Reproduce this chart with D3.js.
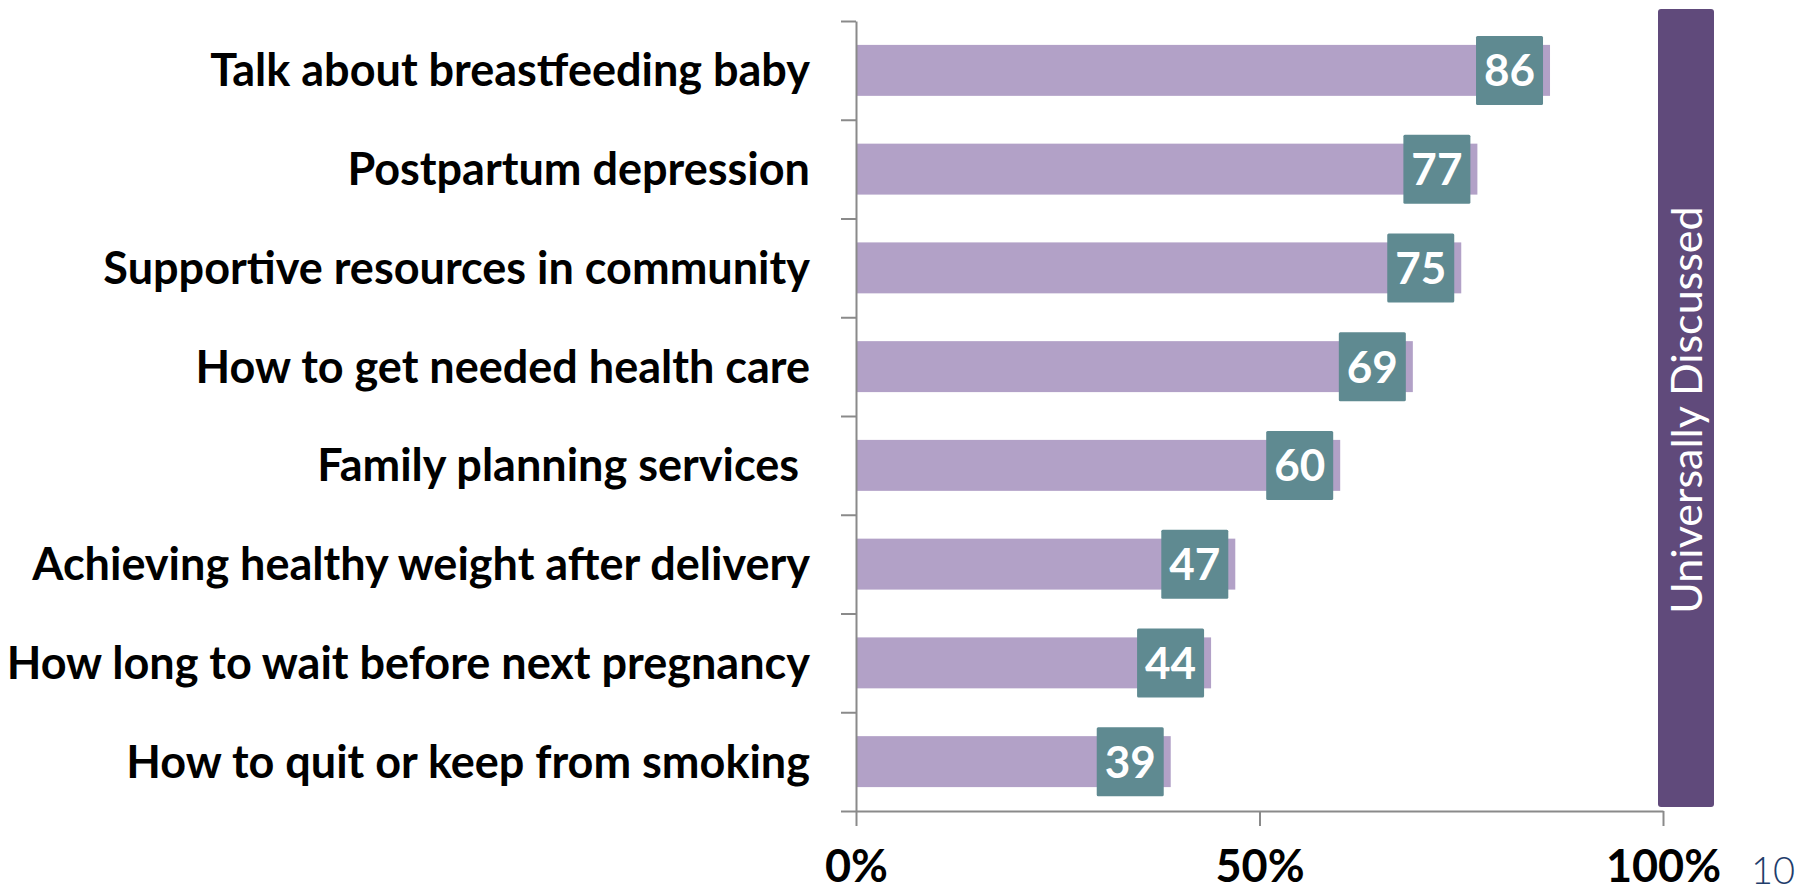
<!DOCTYPE html>
<html>
<head>
<meta charset="utf-8">
<script src="https://cdn.jsdelivr.net/npm/d3@7"></script>
<style>
  body { margin: 0; background: #fff; }
  svg text { font-family: Lato, "Open Sans", sans-serif; }
</style>
</head>
<body>
<script>
const categories = [
  'Talk about breastfeeding baby',
  'Postpartum depression',
  'Supportive resources in community',
  'How to get needed health care',
  'Family planning services ',
  'Achieving healthy weight after delivery',
  'How long to wait before next pregnancy',
  'How to quit or keep from smoking'
];
const values = [86, 77, 75, 69, 60, 47, 44, 39];
const xTicks = [0, 50, 100];
const sideLabel = 'Universally Discussed';
const pageNumber = '10';

const width = 1812;
const height = 892;
const plotLeft = 856;
const plotRight = 1663;
const plotTop = 21;
const plotBottom = 811;

const svg = d3.select('body').append('svg')
              .attr('width', width)
              .attr('height', height);

const xScale = d3.scaleLinear().domain([0, 100]).range([plotLeft, plotRight]);
const yScale = d3.scaleBand().domain(categories).range([plotTop, plotBottom])
                .paddingInner(0.484).paddingOuter(0.242);
// boundaries between categories, for the tick marks on the left axis
const yEdges = d3.scaleLinear().domain([0, categories.length]).range([plotBottom, plotTop]);

const xAxis = d3.axisBottom(xScale).tickValues(xTicks).tickSize(15).tickSizeOuter(0)
                .tickFormat((d) => d + '%');
const yAxis = d3.axisLeft(yEdges).ticks(categories.length).tickSize(15).tickSizeOuter(0)
                .tickFormat('');

// bars
svg.append('g')
  .selectAll('rect')
  .data(values)
  .join('rect')
  .attr('x', xScale(0))
  .attr('y', (d, i) => yScale(categories[i]))
  .attr('width', (d) => xScale(d) - xScale(0))
  .attr('height', yScale.bandwidth())
  .attr('fill', '#b2a1c7');

const gx = svg.append('g')
  .attr('transform', `translate(0, ${plotBottom})`)
  .call(xAxis);

const gy = svg.append('g')
  .attr('transform', `translate(${plotLeft}, 0)`)
  .call(yAxis);

[gx, gy].forEach((g) => {
  g.selectAll('path, line').attr('stroke', '#8a8a8a').attr('stroke-width', 2);
});

gx.selectAll('text')
  .attr('y', 71)
  .attr('dy', null)
  .attr('fill', '#000')
  .style('font-size', '45px')
  .style('font-weight', 'bold');

// category labels
svg.append('g')
  .selectAll('text')
  .data(categories)
  .join('text')
  .attr('x', 810)
  .attr('y', (d) => yScale(d) + yScale.bandwidth() / 2 + 16)
  .attr('text-anchor', 'end')
  .attr('fill', '#000')
  .style('font-size', '45px')
  .style('font-weight', 'bold')
  .style('white-space', 'pre')
  .text((d) => d);

// value boxes
const boxW = 67;
const boxH = 69;
const boxes = svg.append('g')
  .selectAll('g')
  .data(values)
  .join('g')
  .attr('transform', (d, i) => `translate(${xScale(d) - 7 - boxW}, ${yScale(categories[i]) + yScale.bandwidth() / 2 - boxH / 2})`);

boxes.append('rect')
  .attr('width', boxW)
  .attr('height', boxH)
  .attr('rx', 1.5)
  .attr('fill', '#5f8a91');

boxes.append('text')
  .attr('x', boxW / 2)
  .attr('y', boxH / 2 + 16)
  .attr('text-anchor', 'middle')
  .attr('fill', '#fff')
  .style('font-size', '44px')
  .style('font-weight', 'bold')
  .text((d) => d);

// side banner
svg.append('rect')
  .attr('x', 1658)
  .attr('y', 9)
  .attr('width', 56)
  .attr('height', 798)
  .attr('rx', 3)
  .attr('fill', '#604a7b');

svg.append('text')
  .attr('transform', 'translate(1702, 410) rotate(-90)')
  .attr('text-anchor', 'middle')
  .attr('fill', '#fff')
  .style('font-size', '43px')
  .text(sideLabel);

svg.append('text')
  .attr('x', 1773)
  .attr('y', 884)
  .attr('text-anchor', 'middle')
  .attr('fill', '#1f3d6b')
  .style('font-size', '38px')
  .style('font-weight', '300')
  .text(pageNumber);
</script>
</body>
</html>
